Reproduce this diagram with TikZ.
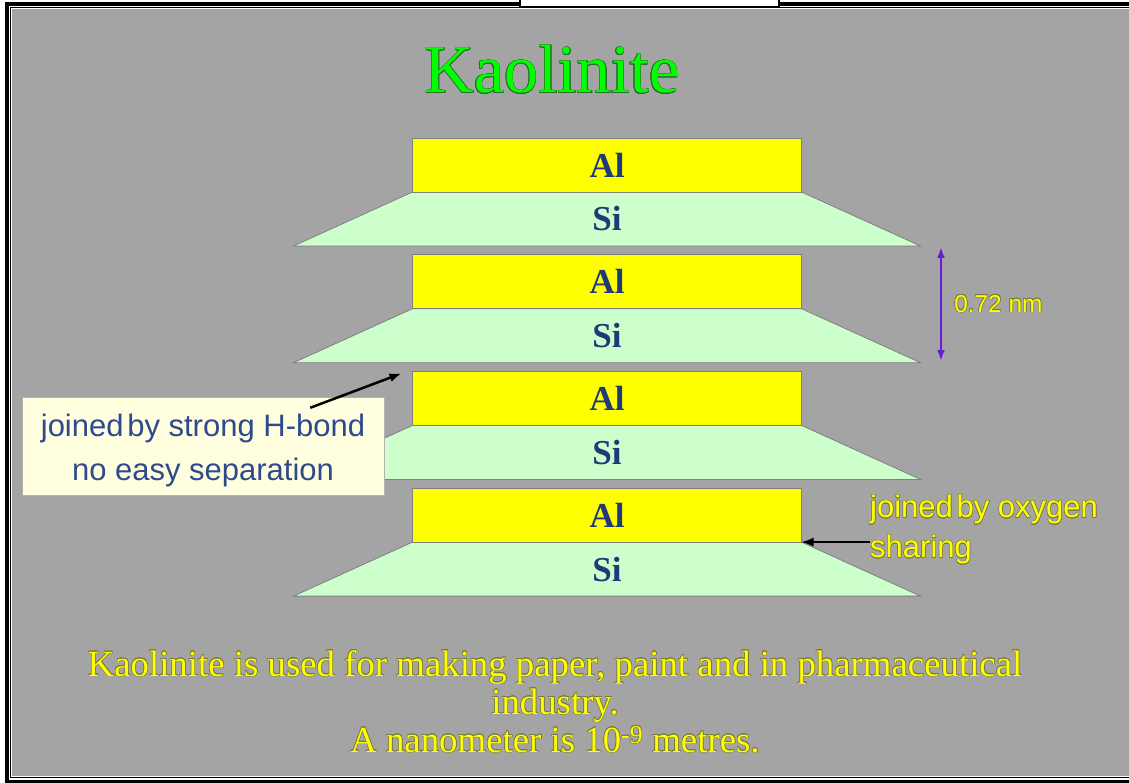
\documentclass[tikz,border=0pt]{standalone}
\usepackage{fontspec}
\setmainfont{Liberation Serif}
\setsansfont{Liberation Sans}
\usepackage{contour}
\contourlength{0.5pt}
\usetikzlibrary{arrows.meta,positioning,calc,backgrounds}
\definecolor{slidegray}{HTML}{A4A4A4}
\definecolor{sheetyellow}{HTML}{FFFF00}
\definecolor{sheetgreen}{HTML}{CCFFCC}
\definecolor{sheetedge}{HTML}{7F7F7F}
\definecolor{labelblue}{HTML}{1F3A78}
\definecolor{noteblue}{HTML}{2E4A8C}
\definecolor{notecream}{HTML}{FFFFE0}
\definecolor{titlegreen}{HTML}{00FF00}
\definecolor{titleedge}{HTML}{2B6E2B}
\definecolor{glowyellow}{HTML}{FFFF00}
\definecolor{glowedge}{HTML}{7A7A3A}
\definecolor{dimviolet}{HTML}{6A1BD8}
\tikzset{
  >={Latex[length=12pt,width=9pt]},
  alsheet/.style={draw=sheetedge,line width=0.8pt,fill=sheetyellow,minimum width=389pt,minimum height=54pt,inner sep=0pt,outer sep=0pt,
    font=\fontsize{35}{40}\selectfont\bfseries,text=labelblue},
  silabel/.style={minimum width=389pt,minimum height=54pt,inner sep=0pt,outer sep=0pt,font=\fontsize{35}{40}\selectfont\bfseries,text=labelblue},
  silayer/.style={draw=sheetedge,line width=0.8pt,fill=sheetgreen},
  note/.style={draw=gray!60,fill=notecream,minimum width=362pt,minimum height=98pt,align=center,inner sep=0pt,
    font=\sffamily\fontsize{31}{44}\selectfont,text=noteblue},
  glow/.style={text=glowyellow,inner sep=0pt},
  arrow/.style={->,line width=2.5pt},
  dimarrow/.style={<->,line width=2.6pt,draw=dimviolet,>={Latex[length=11pt,width=8pt]}},
}

\begin{document}
\begin{tikzpicture}[x=1pt,y=-1pt]
\useasboundingbox (0,0) rectangle (1129,783);
\begin{scope}[on background layer]
  % slide frame
  \fill[black] (5,2) rectangle (1140,783);
  \fill[white] (9,6) rectangle (1140,779.7);
  \draw[line width=1.2pt] (10.5,7.5) rectangle (1140,777.8);
  \fill[slidegray] (12,9) rectangle (1140,776.3);
  \filldraw[fill=white,line width=1.5pt] (520,-2) rectangle (779,6.5);
\end{scope}

\node[anchor=base,inner sep=0pt,text=titlegreen,font=\fontsize{68.5}{72}\selectfont] (title) at (552,93) {\contour{titleedge}{Kaolinite}};

% the four sheets
\node[alsheet] (al1) at (607,165) {Al};
\node[silabel,below=0pt of al1] (si1) {Si};
\node[alsheet,below=8.7pt of si1] (al2) {Al};
\node[silabel,below=0pt of al2] (si2) {Si};
\node[alsheet,below=8.7pt of si2] (al3) {Al};
\node[silabel,below=0pt of al3] (si3) {Si};
\node[alsheet,below=8.7pt of si3] (al4) {Al};
\node[silabel,below=0pt of al4] (si4) {Si};
\begin{scope}[on background layer]
  \filldraw[silayer] (si1.north west) -- (si1.north east) -- ($(si1.south east)+(119,0)$) -- ($(si1.south west)+(-119,0)$) -- cycle;
  \filldraw[silayer] (si2.north west) -- (si2.north east) -- ($(si2.south east)+(119,0)$) -- ($(si2.south west)+(-119,0)$) -- cycle;
  \filldraw[silayer] (si3.north west) -- (si3.north east) -- ($(si3.south east)+(119,0)$) -- ($(si3.south west)+(-119,0)$) -- cycle;
  \filldraw[silayer] (si4.north west) -- (si4.north east) -- ($(si4.south east)+(119,0)$) -- ($(si4.south west)+(-119,0)$) -- cycle;
\end{scope}

% spacing of the layers
\coordinate (dimtop) at ($(si1.south)+(334,1)$);
\coordinate (dimbot) at ($(si2.south)+(334,-1.7)$);
\draw[dimarrow] (dimtop) -- (dimbot) node[midway,right=12pt,glow,font=\sffamily\fontsize{24.4}{28}\selectfont] (dimlabel) {\contour{glowedge}{0.72 nm}};

% H-bond callout
\node[note] (note) at (203,446) {\rule{0pt}{32pt}joined\hspace{0.12em}by strong H-bond\\no easy separation};
\draw[arrow] ($(note.north east)+(-74,11)$) -- ($(al3.north west)+(-11,2)$);

\node[glow,align=left,anchor=north west,font=\sffamily\fontsize{31}{40}\selectfont] (oxy) at (870,495)
  {\contour{glowedge}{joined\hspace{0.12em}by oxygen}\\\contour{glowedge}{sharing}};
\draw[arrow,line width=1.5pt] (oxy.west |- al4.south east) -- (al4.south east);

\node[glow,align=center,anchor=north,font=\fontsize{36.8}{38}\selectfont] (usage) at (555,650)
  {\contour{glowedge}{Kaolinite is used for making paper, paint and in pharmaceutical}\\
   \contour{glowedge}{industry.}\\
   \contour{glowedge}{A nanometer is 10\textsuperscript{-9} metres.}};
\end{tikzpicture}
\end{document}
